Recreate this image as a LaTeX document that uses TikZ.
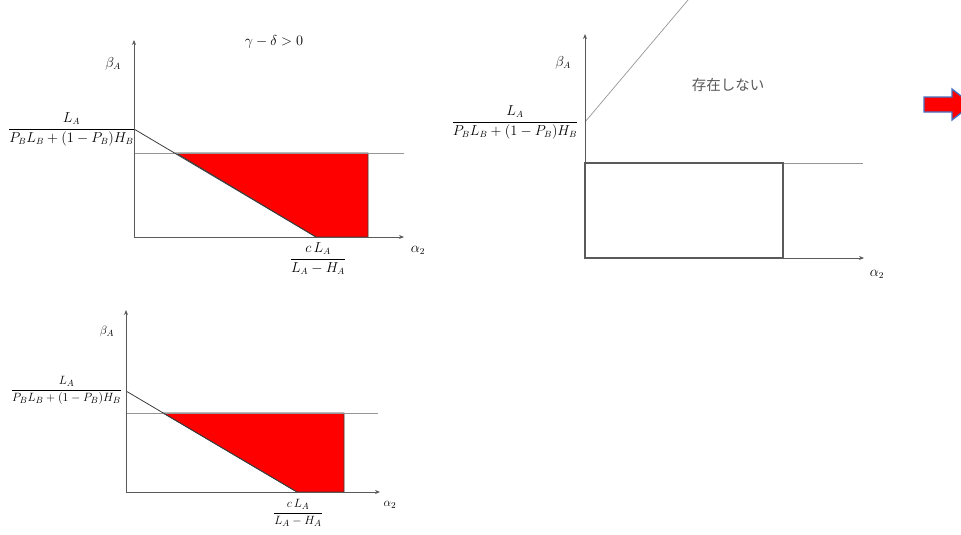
\documentclass[tikz,border=0pt]{standalone}
\usepackage{amsmath}
\usepackage{fontspec}
\newfontfamily\cjkfont{Noto Sans CJK JP}
\usetikzlibrary{arrows.meta}
\definecolor{axisgray}{RGB}{90,90,90}
\definecolor{linegray}{RGB}{150,150,150}
\definecolor{diaggray}{RGB}{60,60,60}
\definecolor{arrowblue}{RGB}{68,114,196}
\tikzset{
  axis/.style={draw=axisgray, line width=0.9pt, -{Stealth[length=5pt,width=4pt]}},
  diagline/.style={draw=diaggray, line width=0.8pt},
  hline/.style={draw=linegray, line width=0.7pt},
  region/.style={fill=red, draw=diaggray, line width=0.8pt},
  lbl/.style={inner sep=0pt, font=\fontsize{13.5}{16}\selectfont},
  lblsmall/.style={inner sep=0pt, font=\fontsize{12.5}{15}\selectfont},
}
\begin{document}
\begin{tikzpicture}[x=1pt,y=-1pt]
\useasboundingbox (0,0) rectangle (961,535);
\clip (0,0) rectangle (961,535);

% ---------- top-left panel ----------
\coordinate (o1) at (134,237);
\coordinate (y1) at (134,40);
\coordinate (x1) at (404,237);
\coordinate (d1s) at (134,129);
\coordinate (d1e) at (316,237);
\coordinate (h1e) at (404,153);
\coordinate (h1s) at (134,153);
\coordinate (r1a) at (176,153);
\coordinate (r1b) at (368,153);
\coordinate (r1c) at (368,237);
\fill[region] (r1a) -- (r1b) -- (r1c) -- (d1e) -- cycle;
\draw[hline] (h1s) -- (h1e);
\draw[diagline] (d1s) -- (d1e);
\draw[axis] (o1) -- (x1);
\draw[axis] (o1) -- (y1);
\node[lbl] (gd1) at (274,42) {$\gamma-\delta>0$};
\node[lbl] (b1) at (113,64) {$\beta_A$};
\node[lbl, anchor=base] (f1) at (71.5,132.5) {$\dfrac{L_A}{P_BL_B+(1-P_B)H_B}$};
\node[lbl, anchor=base] (c1) at (318,262.5) {$\dfrac{c\,L_A}{L_A-H_A}$};
\node[lbl] (a1) at (418,250) {$\alpha_2$};

% ---------- top-right panel ----------
\coordinate (o2) at (585,258);
\coordinate (y2) at (585,34);
\coordinate (x2) at (864,258);
\coordinate (q2b) at (783,163);
\coordinate (h2e) at (863,163);
\coordinate (d2s) at (585,122);
\coordinate (d2e) at (688,0);
\draw[draw=linegray, line width=0.7pt] (q2b) -- (h2e);
\draw[draw=linegray, line width=0.7pt] (d2s) -- (d2e);
\draw[axis] (o2) -- (x2);
\draw[axis] (o2) -- (y2);
\draw[draw=axisgray, line width=1.1pt] (o2) rectangle (q2b);
\node[lbl] (b2) at (563,63) {$\beta_A$};
\node[lbl, anchor=base] (f2) at (515,125.5) {$\dfrac{L_A}{P_BL_B+(1-P_B)H_B}$};
\node[inner sep=0pt, text=black!65, font=\cjkfont\fontsize{14.5}{17}\selectfont] (ne) at (728,85) {存在しない};
\node[lbl] (a2) at (877,274) {$\alpha_2$};

% block arrow (clipped at the right edge)
\coordinate (ar1) at (924,97);
\coordinate (ar2) at (952,97);
\coordinate (ar3) at (952,89);
\coordinate (ar4) at (972,104.5);
\coordinate (ar5) at (952,120);
\coordinate (ar6) at (952,112);
\coordinate (ar7) at (924,112);
\filldraw[fill=red, draw=arrowblue, line width=1.3pt, line join=miter]
  (ar1) -- (ar2) -- (ar3) -- (ar4) -- (ar5) -- (ar6) -- (ar7) -- cycle;

% ---------- bottom-left panel ----------
\coordinate (o3) at (126,492);
\coordinate (y3) at (126,310);
\coordinate (x3) at (380,492);
\coordinate (d3s) at (126,391);
\coordinate (d3e) at (297,492);
\coordinate (h3s) at (126,413);
\coordinate (h3e) at (378,413);
\coordinate (r3a) at (163,413);
\coordinate (r3b) at (344,413);
\coordinate (r3c) at (344,492);
\fill[region] (r3a) -- (r3b) -- (r3c) -- (d3e) -- cycle;
\draw[hline] (h3s) -- (h3e);
\draw[diagline] (d3s) -- (d3e);
\draw[axis] (o3) -- (x3);
\draw[axis] (o3) -- (y3);
\node[lblsmall] (b3) at (107,331) {$\beta_A$};
\node[lblsmall, anchor=base] (f3) at (66.5,393) {$\dfrac{L_A}{P_BL_B+(1-P_B)H_B}$};
\node[lblsmall, anchor=base] (c3) at (298,516) {$\dfrac{c\,L_A}{L_A-H_A}$};
\node[lblsmall] (a3) at (390,505) {$\alpha_2$};
\end{tikzpicture}
\end{document}
